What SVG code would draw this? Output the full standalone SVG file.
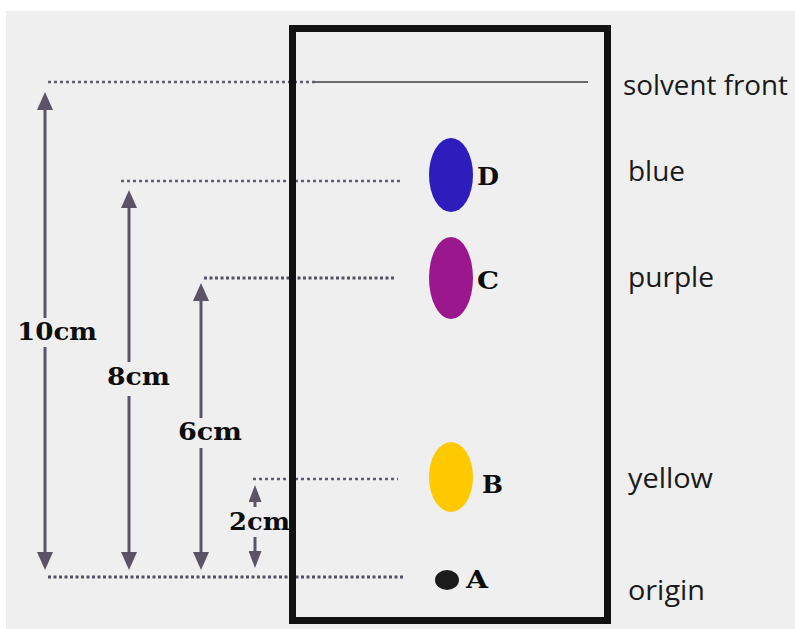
<svg xmlns="http://www.w3.org/2000/svg" width="795" height="629" viewBox="0 0 795 629">
  <style>
    .dot { stroke: #554f63; stroke-width: 3; stroke-dasharray: 3 2.5; fill: none; }
    .dotl { stroke: #625c70; stroke-width: 2.5; stroke-dasharray: 3 3; fill: none; }
    .shaft { stroke: #5b5466; stroke-width: 3; fill: none; }
    .meas { font-family: "DejaVu Serif", "Liberation Serif", serif; font-weight: bold; font-size: 25px; fill: #0d0d0d; }
    .spotlbl { font-family: "DejaVu Serif", "Liberation Serif", serif; font-weight: bold; font-size: 24px; fill: #0d0d0d; }
    .side { font-family: "Open Sans", "Liberation Sans", sans-serif; font-size: 28px; fill: #1a1a1a; }
  </style>
  <defs>
    <marker id="ah" markerUnits="userSpaceOnUse" markerWidth="18" markerHeight="16" refX="0" refY="8" orient="auto">
      <path d="M0,0 L18,8 L0,16 z" fill="#5b5466"/>
    </marker>
    <marker id="ahs" markerUnits="userSpaceOnUse" markerWidth="17" markerHeight="13" refX="0" refY="6.5" orient="auto">
      <path d="M0,0 L17,6.5 L0,13 z" fill="#5b5466"/>
    </marker>
  </defs>

  <rect x="0" y="0" width="795" height="629" fill="#ffffff"/>
  <rect x="6" y="11" width="789" height="618" fill="#efefef"/>

  <g id="connectors">
    <line class="dotl" x1="48" y1="82" x2="315" y2="82"/>
    <line x1="315" y1="82" x2="588" y2="82" stroke="#6a6a6a" stroke-width="2"/>
    <line class="dotl" x1="121" y1="181" x2="403" y2="181"/>
    <line class="dot" x1="204" y1="278" x2="395" y2="278"/>
    <line class="dotl" x1="253" y1="479" x2="398" y2="479"/>
    <line class="dot" x1="48" y1="577" x2="403" y2="577"/>

    <line class="shaft" x1="45" y1="318" x2="45" y2="110" marker-end="url(#ah)"/>
    <line class="shaft" x1="45" y1="347" x2="45" y2="552" marker-end="url(#ah)"/>
    <line class="shaft" x1="129" y1="362" x2="129" y2="208" marker-end="url(#ah)"/>
    <line class="shaft" x1="129" y1="396" x2="129" y2="552" marker-end="url(#ah)"/>
    <line class="shaft" x1="201" y1="418" x2="201" y2="301" marker-end="url(#ah)"/>
    <line class="shaft" x1="201" y1="448" x2="201" y2="552" marker-end="url(#ah)"/>
    <line class="shaft" x1="255" y1="507" x2="255" y2="502" marker-end="url(#ahs)"/>
    <line class="shaft" x1="255" y1="537" x2="255" y2="551" marker-end="url(#ahs)"/>
  </g>

  <g id="plate">
    <rect x="292.5" y="28.5" width="315" height="592" fill="none" stroke="#111" stroke-width="7"/>
  </g>

  <g id="spot-D">
    <ellipse cx="451" cy="175" rx="22" ry="37" fill="#2e1cbc"/>
    <text class="spotlbl" x="477" y="185" textLength="22" lengthAdjust="spacingAndGlyphs">D</text>
  </g>
  <g id="spot-C">
    <ellipse cx="451" cy="278" rx="22" ry="41" fill="#9a178e"/>
    <text class="spotlbl" x="477" y="289" textLength="22" lengthAdjust="spacingAndGlyphs">C</text>
  </g>
  <g id="spot-B">
    <ellipse cx="451" cy="477" rx="22" ry="35" fill="#ffc900"/>
    <text class="spotlbl" x="482" y="493" textLength="21" lengthAdjust="spacingAndGlyphs">B</text>
  </g>
  <g id="spot-A">
    <ellipse cx="447" cy="580" rx="12" ry="10" fill="#1c1c1c"/>
    <text class="spotlbl" x="466" y="588" textLength="22" lengthAdjust="spacingAndGlyphs">A</text>
  </g>

  <g id="measurements">
    <text class="meas" x="17" y="340" textLength="80" lengthAdjust="spacingAndGlyphs">10cm</text>
    <text class="meas" x="107" y="385" textLength="63" lengthAdjust="spacingAndGlyphs">8cm</text>
    <text class="meas" x="178" y="440" textLength="64" lengthAdjust="spacingAndGlyphs">6cm</text>
    <text class="meas" x="229" y="530" textLength="61" lengthAdjust="spacingAndGlyphs">2cm</text>
  </g>

  <g id="side-labels">
    <text class="side" x="623" y="95" textLength="165" lengthAdjust="spacingAndGlyphs">solvent front</text>
    <text class="side" x="628" y="181" textLength="57" lengthAdjust="spacingAndGlyphs">blue</text>
    <text class="side" x="628" y="287" textLength="86" lengthAdjust="spacingAndGlyphs">purple</text>
    <text class="side" x="628" y="488" textLength="85" lengthAdjust="spacingAndGlyphs">yellow</text>
    <text class="side" x="628" y="600" textLength="77" lengthAdjust="spacingAndGlyphs">origin</text>
  </g>
</svg>
